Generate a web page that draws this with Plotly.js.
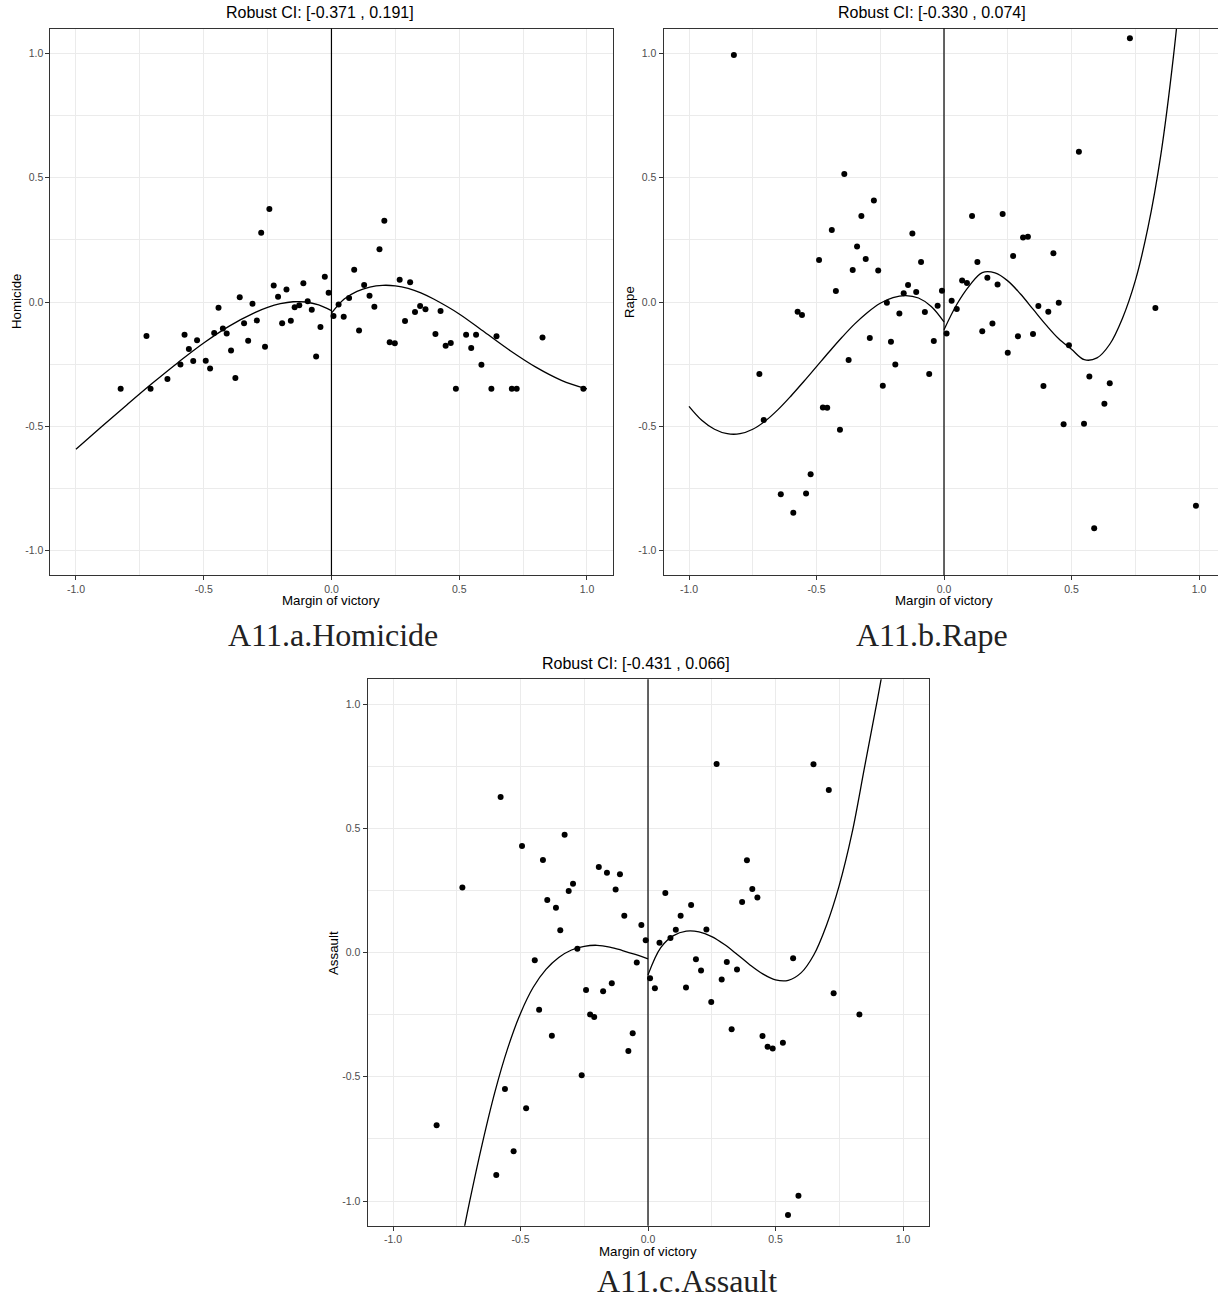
<!DOCTYPE html>
<html><head><meta charset="utf-8">
<script src="https://cdn.plot.ly/plotly-3.0.1.min.js"></script>
<style>html,body{margin:0;padding:0;background:#fff}#chart{width:1218px;height:1301px}</style>
</head><body><div id="chart"></div>
<script>
// ---------- tick labels ----------
const TICKS = [-1, -0.5, 0, 0.5, 1];
const TICK_LABELS = ["-1.0", "-0.5", "0.0", "0.5", "1.0"];

// ---------- panel titles / captions ----------
const TITLES = ["Robust CI: [-0.371 , 0.191]", "Robust CI: [-0.330 , 0.074]", "Robust CI: [-0.431 , 0.066]"];
const Y_TITLES = ["Homicide", "Rape", "Assault"];
const X_TITLE = "Margin of victory";
const CAPTIONS = ["A11.a.Homicide", "A11.b.Rape", "A11.c.Assault"];

// ---------- A11.a Homicide ----------
const homicideX = [-0.825,-0.724,-0.708,-0.642,-0.591,-0.575,-0.558,-0.541,-0.526,-0.492,-0.475,-0.459,-0.442,-0.425,-0.410,-0.393,-0.376,-0.359,-0.342,-0.326,-0.309,-0.292,-0.275,-0.260,-0.243,-0.226,-0.209,-0.193,-0.176,-0.159,-0.144,-0.126,-0.110,-0.093,-0.077,-0.060,-0.043,-0.026,-0.011,0.008,0.028,0.048,0.069,0.089,0.108,0.128,0.149,0.168,0.188,0.207,0.228,0.248,0.267,0.288,0.308,0.327,0.347,0.368,0.407,0.427,0.447,0.467,0.487,0.527,0.547,0.566,0.587,0.626,0.646,0.706,0.725,0.826,0.986];
const homicideY = [-0.349,-0.137,-0.349,-0.310,-0.251,-0.132,-0.189,-0.237,-0.154,-0.236,-0.268,-0.125,-0.023,-0.107,-0.127,-0.195,-0.306,0.019,-0.085,-0.156,-0.007,-0.074,0.279,-0.180,0.374,0.066,0.021,-0.085,0.050,-0.075,-0.021,-0.013,0.075,0.003,-0.031,-0.219,-0.101,0.102,0.037,-0.056,-0.010,-0.059,0.016,0.130,-0.115,0.068,0.025,-0.019,0.212,0.327,-0.162,-0.166,0.090,-0.076,0.079,-0.040,-0.016,-0.029,-0.129,-0.036,-0.176,-0.165,-0.349,-0.132,-0.185,-0.132,-0.252,-0.349,-0.138,-0.349,-0.349,-0.143,-0.349];
const homicideFitLeftX = [-1.0,-0.9,-0.8,-0.7,-0.6,-0.5,-0.4,-0.3,-0.25,-0.2,-0.15,-0.1,-0.05,0.0];
const homicideFitLeftY = [-0.592,-0.502,-0.413,-0.326,-0.243,-0.165,-0.097,-0.043,-0.022,-0.007,0.001,0.000,-0.012,-0.035];
const homicideFitRightX = [0.0,0.05,0.1,0.15,0.2,0.25,0.3,0.35,0.4,0.5,0.6,0.7,0.8,0.9,1.0];
const homicideFitRightY = [-0.045,0.012,0.043,0.060,0.067,0.065,0.055,0.037,0.012,-0.048,-0.122,-0.196,-0.262,-0.315,-0.350];

// ---------- A11.b Rape ----------
const rapeX = [-0.824,-0.724,-0.707,-0.640,-0.591,-0.574,-0.557,-0.541,-0.523,-0.490,-0.475,-0.458,-0.440,-0.424,-0.408,-0.391,-0.374,-0.358,-0.341,-0.324,-0.307,-0.291,-0.275,-0.258,-0.240,-0.224,-0.208,-0.191,-0.175,-0.158,-0.141,-0.124,-0.109,-0.090,-0.075,-0.058,-0.040,-0.025,-0.008,0.010,0.030,0.050,0.071,0.090,0.110,0.131,0.150,0.170,0.190,0.210,0.230,0.250,0.271,0.290,0.310,0.329,0.349,0.370,0.390,0.409,0.429,0.450,0.469,0.490,0.529,0.549,0.570,0.589,0.629,0.650,0.729,0.829,0.988];
const rapeY = [0.994,-0.290,-0.475,-0.773,-0.848,-0.039,-0.052,-0.770,-0.693,0.169,-0.424,-0.425,0.290,0.044,-0.514,0.515,-0.233,0.129,0.223,0.346,0.173,-0.145,0.408,0.127,-0.337,-0.003,-0.160,-0.251,-0.046,0.035,0.068,0.276,0.040,0.161,-0.040,-0.290,-0.157,-0.015,0.045,-0.127,0.005,-0.028,0.087,0.076,0.346,0.161,-0.118,0.098,-0.087,0.070,0.354,-0.204,0.185,-0.138,0.260,0.263,-0.129,-0.016,-0.338,-0.039,0.196,-0.003,-0.492,-0.174,0.605,-0.490,-0.300,-0.910,-0.409,-0.327,1.061,-0.024,-0.820];
const rapeFitLeftX = [-1.0,-0.95,-0.9,-0.85,-0.8,-0.75,-0.7,-0.65,-0.6,-0.55,-0.5,-0.45,-0.4,-0.35,-0.3,-0.25,-0.2,-0.15,-0.1,-0.05,0.0];
const rapeFitLeftY = [-0.420,-0.476,-0.512,-0.530,-0.530,-0.512,-0.478,-0.432,-0.378,-0.320,-0.260,-0.200,-0.142,-0.088,-0.042,-0.005,0.018,0.026,0.016,-0.018,-0.080];
const rapeFitRightX = [0.0,0.05,0.1,0.15,0.2,0.25,0.3,0.35,0.4,0.45,0.5,0.55,0.6,0.65,0.7,0.75,0.8,0.85,0.9,0.95];
const rapeFitRightY = [-0.112,-0.010,0.066,0.118,0.117,0.085,0.032,-0.030,-0.092,-0.148,-0.190,-0.232,-0.225,-0.170,-0.065,0.085,0.300,0.590,0.990,1.500];

// ---------- A11.c Assault ----------
const assaultX = [-0.829,-0.728,-0.595,-0.578,-0.561,-0.527,-0.494,-0.478,-0.444,-0.427,-0.412,-0.395,-0.377,-0.361,-0.344,-0.327,-0.311,-0.294,-0.277,-0.260,-0.243,-0.227,-0.211,-0.193,-0.176,-0.161,-0.142,-0.127,-0.110,-0.093,-0.077,-0.060,-0.044,-0.026,-0.009,0.008,0.027,0.045,0.068,0.088,0.109,0.128,0.149,0.169,0.188,0.208,0.229,0.248,0.269,0.289,0.309,0.328,0.349,0.369,0.388,0.409,0.429,0.449,0.469,0.489,0.529,0.549,0.569,0.590,0.649,0.709,0.728,0.829];
const assaultY = [-0.695,0.262,-0.895,0.626,-0.549,-0.800,0.429,-0.627,-0.031,-0.230,0.372,0.211,-0.335,0.180,0.090,0.474,0.247,0.277,0.015,-0.494,-0.151,-0.249,-0.260,0.344,-0.156,0.321,-0.124,0.254,0.315,0.148,-0.396,-0.325,-0.040,0.111,0.049,-0.104,-0.144,0.039,0.239,0.058,0.092,0.148,-0.141,0.191,-0.027,-0.072,0.093,-0.199,0.759,-0.109,-0.038,-0.309,-0.068,0.203,0.371,0.256,0.221,-0.336,-0.379,-0.386,-0.363,-1.056,-0.023,-0.979,0.758,0.654,-0.164,-0.249];
const assaultFitLeftX = [-0.74,-0.7,-0.65,-0.6,-0.55,-0.5,-0.45,-0.4,-0.35,-0.3,-0.25,-0.2,-0.15,-0.1,-0.05,0.0];
const assaultFitLeftY = [-1.210,-1.005,-0.770,-0.560,-0.385,-0.245,-0.140,-0.068,-0.020,0.010,0.025,0.029,0.022,0.008,-0.008,-0.026];
const assaultFitRightX = [0.0,0.05,0.1,0.15,0.2,0.25,0.3,0.35,0.4,0.45,0.5,0.55,0.6,0.65,0.7,0.75,0.8,0.85,0.9,0.95];
const assaultFitRightY = [-0.090,0.020,0.068,0.086,0.083,0.064,0.032,-0.008,-0.050,-0.086,-0.110,-0.112,-0.082,-0.010,0.110,0.270,0.480,0.750,1.020,1.300];

// ---------- build ----------
const FONT = "Liberation Sans, Arial, Helvetica, sans-serif";
const SERIF = "Liberation Serif, Times New Roman, serif";
const W = 1218, H = 1301;
const px = v => v / W;
const py = v => 1 - v / H;

function pts(x, y, xa, ya) {
  return {type: 'scatter', mode: 'markers', x: x, y: y, xaxis: xa, yaxis: ya,
    marker: {color: '#000000', size: 6, line: {width: 0}}, hoverinfo: 'skip'};
}
function fit(x, y, xa, ya) {
  return {type: 'scatter', mode: 'lines', x: x, y: y, xaxis: xa, yaxis: ya,
    line: {color: '#000000', width: 1.3, shape: 'spline', smoothing: 1}, hoverinfo: 'skip'};
}
function axis(domain, range, anchor, mirror) {
  return {domain: domain, range: range, anchor: anchor,
    tickmode: 'array', tickvals: TICKS, ticktext: TICK_LABELS,
    ticks: 'outside', ticklen: 4, tickwidth: 1, tickcolor: '#333333',
    tickfont: {family: FONT, size: 10.5, color: '#4D4D4D'},
    showgrid: false,
    minor: {tickmode: 'linear', tick0: 0, dtick: 0.25, showgrid: true, gridcolor: '#EBEBEB', gridwidth: 1, ticks: ''},
    zeroline: false, showline: true, linecolor: '#333333', linewidth: 1, mirror: mirror,
    fixedrange: true};
}

const data = [
  pts(homicideX, homicideY, 'x', 'y'),
  fit(homicideFitLeftX, homicideFitLeftY, 'x', 'y'),
  fit(homicideFitRightX, homicideFitRightY, 'x', 'y'),
  pts(rapeX, rapeY, 'x2', 'y2'),
  fit(rapeFitLeftX, rapeFitLeftY, 'x2', 'y2'),
  fit(rapeFitRightX, rapeFitRightY, 'x2', 'y2'),
  pts(assaultX, assaultY, 'x3', 'y3'),
  fit(assaultFitLeftX, assaultFitLeftY, 'x3', 'y3'),
  fit(assaultFitRightX, assaultFitRightY, 'x3', 'y3')
];

const yTop1 = py(28.6), yBot1 = py(575.4);
const yTop3 = py(679.15), yBot3 = py(1225.85);

function ann(text, x, y, size, opts) {
  return Object.assign({text: text, x: px(x), y: py(y), xref: 'paper', yref: 'paper',
    showarrow: false, xanchor: 'center', yanchor: 'middle',
    font: {family: FONT, size: size, color: '#000000'}}, opts || {});
}
function vline(xa, ya) {
  return {type: 'line', xref: xa, yref: ya + ' domain', x0: 0, x1: 0, y0: 0, y1: 1,
    line: {color: '#000000', width: 1.2}, layer: 'above'};
}
const capFont = {family: SERIF, size: 32, color: '#222222'};

const layout = {
  width: W, height: H, margin: {l: 0, r: 0, t: 0, b: 0},
  paper_bgcolor: '#ffffff', plot_bgcolor: '#ffffff', showlegend: false,
  font: {family: FONT},
  xaxis: axis([px(50.4), px(612.5)], [-1.1, 1.1], 'y', true),
  yaxis: axis([yBot1, yTop1], [-1.1, 1.1], 'x', true),
  xaxis2: axis([px(663.5), 1], [-1.1, (1218 - 944) / 255], 'y2', true),
  yaxis2: axis([yBot1, yTop1], [-1.1, 1.1], 'x2', false),
  xaxis3: axis([px(367.5), px(928.5)], [-1.1, 1.1], 'y3', true),
  yaxis3: axis([yBot3, yTop3], [-1.1, 1.1], 'x3', true),
  shapes: [vline('x', 'y'), vline('x2', 'y2'), vline('x3', 'y3')],
  annotations: [
    ann(TITLES[0], 319.5, 13, 16),
    ann(TITLES[1], 932, 13, 16),
    ann(TITLES[2], 636, 663, 16),
    ann(X_TITLE, 331, 600, 13.3),
    ann(X_TITLE, 944, 600, 13.3),
    ann(X_TITLE, 648, 1251, 13.3),
    ann(Y_TITLES[0], 16, 302, 13.3, {textangle: -90}),
    ann(Y_TITLES[1], 629, 302, 13.3, {textangle: -90}),
    ann(Y_TITLES[2], 333, 953, 13.3, {textangle: -90}),
    ann(CAPTIONS[0], 333, 635, 32, {font: capFont}),
    ann(CAPTIONS[1], 932, 635, 32, {font: capFont}),
    ann(CAPTIONS[2], 687, 1281, 32, {font: capFont})
  ]
};

Plotly.newPlot('chart', data, layout, {staticPlot: true, displayModeBar: false});
</script>
</body></html>
